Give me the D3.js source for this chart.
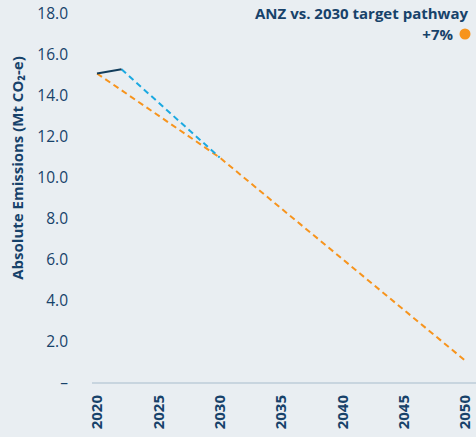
<!DOCTYPE html>
<html>
<head>
<meta charset="utf-8">
<script src="https://cdn.jsdelivr.net/npm/d3@7"></script>
<style>
  body { margin: 0; background: #e9eef2; }
  svg { display: block; font-family: "Open Sans", sans-serif; }
</style>
</head>
<body>
<div id="chart"></div>
<script>
const WIDTH = 476
const HEIGHT = 437
const TEXT = "#17426a"

// data
const actualYears = [2020, 2022]
const actualValues = [15.1, 15.3]
const forecastYears = [2022, 2030]
const forecastValues = [15.3, 11.0]
const targetYears = [2020, 2030, 2040, 2050]
const targetValues = [15.1, 11.0, 6.05, 1.1]
const xTicks = [2020, 2025, 2030, 2035, 2040, 2045, 2050]
const yTicks = [0, 2, 4, 6, 8, 10, 12, 14, 16, 18]
const legendTitle = "ANZ vs. 2030 target pathway"
const legendValue = "+7%"

const xScale = d3.scaleLinear().domain([2020, 2050]).range([97, 465])
const yScale = d3.scaleLinear().domain([0, 18]).range([383, 14])

const svg = d3.select("#chart").append("svg")
  .attr("width", WIDTH)
  .attr("height", HEIGHT)

svg.append("rect").attr("width", WIDTH).attr("height", HEIGHT).attr("fill", "#e9eef2")

// x axis baseline
svg.append("line")
  .attr("x1", 92).attr("x2", WIDTH)
  .attr("y1", yScale(0)).attr("y2", yScale(0))
  .attr("stroke", "#bccdd9").attr("stroke-width", 1.5)

// y tick labels
svg.append("g").selectAll("text")
  .data(yTicks)
  .enter().append("text")
  .attr("x", 68)
  .attr("y", d => yScale(d))
  .attr("dy", "0.35em")
  .attr("text-anchor", "end")
  .attr("fill", TEXT)
  .style("font-size", "15.5px")
  .text(d => d === 0 ? "–" : d3.format(".1f")(d))

// x tick labels, rotated
svg.append("g").selectAll("text")
  .data(xTicks)
  .enter().append("text")
  .attr("transform", d => `translate(${xScale(d)},395) rotate(-90)`)
  .attr("dy", "0.35em")
  .attr("text-anchor", "end")
  .attr("fill", TEXT)
  .style("font-size", "15px")
  .style("font-weight", "bold")
  .text(d => d)

// y axis title
svg.append("text")
  .attr("transform", "translate(18,168) rotate(-90)")
  .attr("dy", "0.35em")
  .attr("text-anchor", "middle")
  .attr("fill", TEXT)
  .style("font-size", "15px")
  .style("font-weight", "bold")
  .text("Absolute Emissions (Mt CO₂-e)")

const line = d3.line()
  .x(d => xScale(d[0]))
  .y(d => yScale(d[1]))

svg.append("path")
  .datum(d3.zip(targetYears, targetValues))
  .attr("d", line)
  .attr("fill", "none")
  .attr("stroke", "#f7941d")
  .attr("stroke-width", 2)
  .attr("stroke-dasharray", "6,4")

svg.append("path")
  .datum(d3.zip(forecastYears, forecastValues))
  .attr("d", line)
  .attr("fill", "none")
  .attr("stroke", "#1ba9e1")
  .attr("stroke-width", 2)
  .attr("stroke-dasharray", "6,4")

svg.append("path")
  .datum(d3.zip(actualYears, actualValues))
  .attr("d", line)
  .attr("fill", "none")
  .attr("stroke", "#123d5c")
  .attr("stroke-width", 2)

// legend
svg.append("text")
  .attr("x", 468).attr("y", 19)
  .attr("text-anchor", "end")
  .attr("fill", TEXT)
  .style("font-size", "15px")
  .style("font-weight", "bold")
  .text(legendTitle)

svg.append("text")
  .attr("x", 453).attr("y", 40)
  .attr("text-anchor", "end")
  .attr("fill", TEXT)
  .style("font-size", "15px")
  .style("font-weight", "bold")
  .text(legendValue)

svg.append("circle")
  .attr("cx", 465).attr("cy", 34).attr("r", 5.5)
  .attr("fill", "#f7941d")
</script>
</body>
</html>
